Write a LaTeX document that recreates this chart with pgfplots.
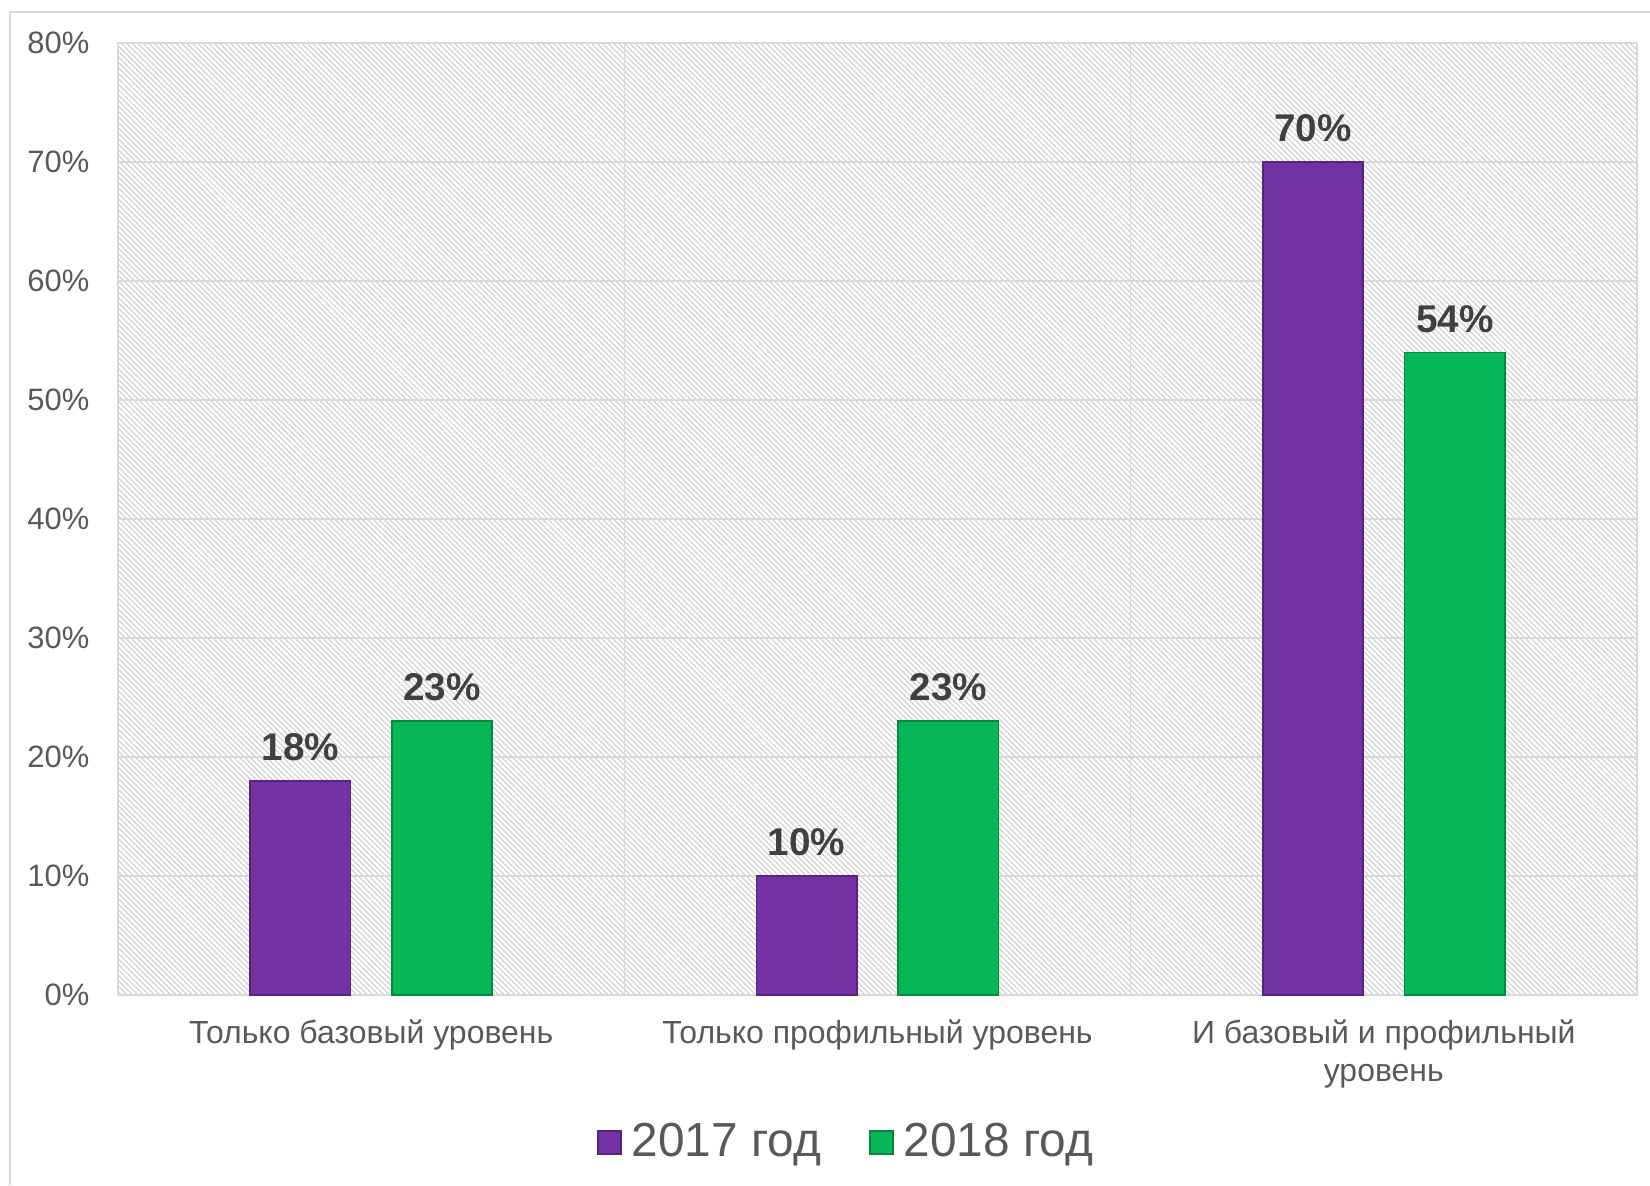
\documentclass[border=0pt]{standalone}
\usepackage{fontspec}
\setmainfont{Liberation Sans}
\usepackage{pgfplots}
\pgfplotsset{compat=1.18}
\usetikzlibrary{patterns.meta}
\definecolor{purplebar}{HTML}{7332A3}
\definecolor{greenbar}{HTML}{07B757}
\definecolor{textgray}{HTML}{595959}
\definecolor{labelgray}{HTML}{404040}
\definecolor{gridgray}{HTML}{D9D9D9}
\pgfplotsset{sqlegend/.style={legend image code/.code={%
  \draw[##1,line width=0.4pt] (0cm,-0.115cm) rectangle (0.23cm,0.115cm);}}}

\begin{document}
\begin{tikzpicture}
\path[use as bounding box] (0,0) rectangle (16.5,11.85);
\draw[gridgray, line width=0.6pt] (0.10,0) -- (0.10,11.73) -- (16.5,11.73);
\begin{axis}[
  at={(1.18cm,1.90cm)}, anchor=south west,
  scale only axis, width=15.19cm, height=9.52cm,
  ybar, bar width=0.198,
  ymin=0, ymax=80, xmin=-0.5, xmax=2.5,
  ytick={0,10,...,80},
  yticklabel={\pgfmathprintnumber{\tick}\%},
  /pgf/number format/assume math mode=true,
  xtick={0,1,2},
  xticklabels={Только базовый уровень, Только профильный уровень, {И базовый и профильный\\уровень}},
  extra x ticks={0.5,1.5}, extra x tick labels={},
  extra x tick style={xmajorgrids=true},
  major tick length=0pt,
  ymajorgrids=true,
  grid style={gridgray, line width=0.45pt},
  axis line style={gridgray, line width=0.45pt},
  axis background/.style={pattern={Lines[angle=135,distance=1.1pt,line width=0.3pt]}, pattern color=gray!40},
  yticklabel style={anchor=east, inner sep=0pt, xshift=-0.28cm, text=textgray, font=\fontsize{8.8}{10.5}\selectfont},
  xticklabel style={anchor=north, inner sep=0pt, yshift=-0.24cm, align=center, text=textgray, font=\fontsize{9.1}{10.9}\selectfont},
  nodes near coords={\pgfmathprintnumber{\pgfplotspointmeta}\%},
  nodes near coords style={font=\bfseries\fontsize{11}{13}\selectfont, text=labelgray, anchor=south, inner sep=0pt, yshift=0.19cm},
  legend style={at={(0.482,-0.155)}, anchor=center, legend columns=2, draw=none, fill=none,
    font=\fontsize{13.6}{16}\selectfont, text=textgray, inner sep=0pt,
    nodes={inner xsep=0.1cm},
    /tikz/every even column/.append style={column sep=0.38cm}},
]
\addplot[fill=purplebar, draw=purplebar!75!black, line width=0.5pt, bar shift=-0.14, sqlegend]
  coordinates {(0,18) (1,10) (2,70)};
\addplot[fill=greenbar, draw=greenbar!75!black, line width=0.5pt, bar shift=0.14, sqlegend]
  coordinates {(0,23) (1,23) (2,54)};
\legend{2017 год, 2018 год}
\end{axis}
\end{tikzpicture}
\end{document}
